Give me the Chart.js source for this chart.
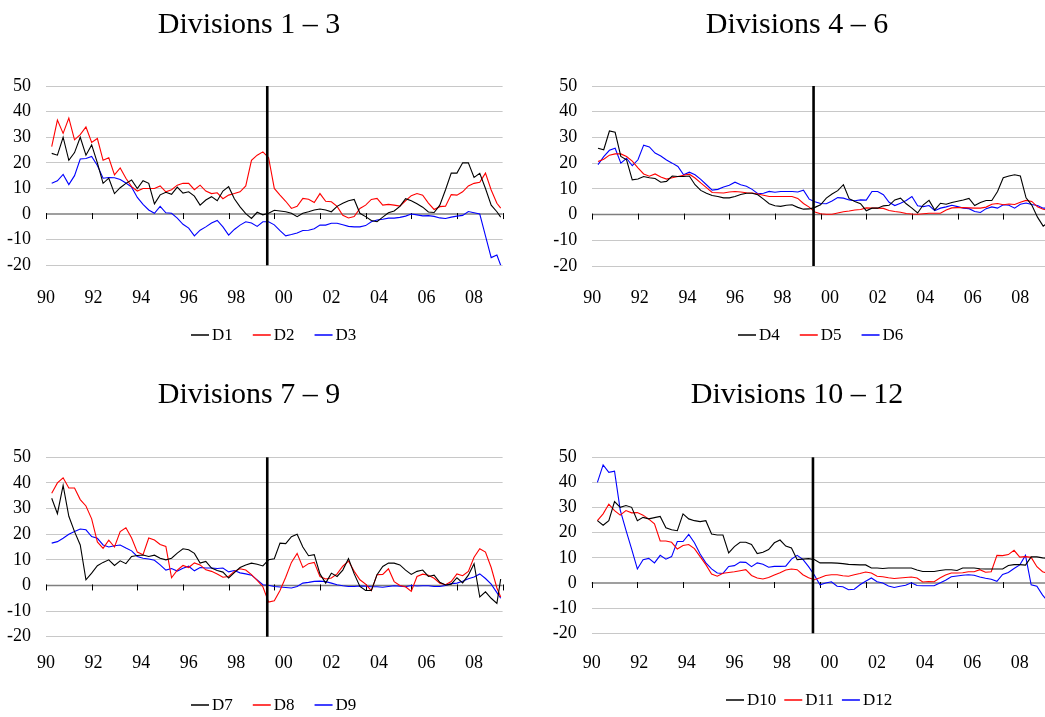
<!DOCTYPE html>
<html>
<head>
<meta charset="utf-8">
<script src="https://cdn.jsdelivr.net/npm/chart.js@4.4.1/dist/chart.umd.min.js"></script>
<style>
  html, body { margin:0; padding:0; background:#fff; width:1045px; height:717px; overflow:hidden; }
  canvas { position:absolute; }
  .title { position:absolute; width:400px; text-align:center; font-family:"Liberation Serif","Times New Roman",serif; font-size:30px; line-height:30px; color:#000; white-space:nowrap; }
</style>
</head>
<body>
<script>
// ---- data: month index since Jan 1990 (x), values in percent (y) ----
const months = [3,6,9,12,15,18,21,24,27,30,33,36,39,42,45,48,51,54,57,60,63,66,69,72,75,78,81,
  84,87,90,93,96,99,102,105,108,111,114,117,120,123,126,129,132,135,138,141,144,147,150,153,156,159,162,
  165,168,171,174,177,180,183,186,189,192,195,198,201,204,207,210,213,216,219,222,225,228,231,234,237,239];

const D1 = [23.7,23,30,21,24,30,23,27,20,12,14,8,10.3,12,13.3,10,13,12,4,7.5,8.5,7.7,10.5,8.2,8.7,7,3.5,
  5.5,6.8,5.2,9,10.7,6,2.8,0.2,-1.7,0.7,-0.3,0.3,1.5,1.2,0.9,0.3,-1,0.3,0.9,1.6,2,1.6,0.9,3,4.2,5.2,5.7,
  0.3,-1,-2.5,-3,-1.2,0.5,1.2,3,6,5.2,4,2.7,0.8,0.6,3.5,9.5,16,16,20,20,14.3,15.9,10,3.5,0.9,
  -1.2];
const D2 = [26.3,36.7,31.5,37.5,29,31,34,28,29.5,21,22,15.3,18,14,10.7,9,10,10,10,11,8.7,9.5,11.3,12,12,9.5,11.3,
  9,8,8.3,6,7.4,8,8.7,11,21,23,24.3,22,10,7.4,5,2.2,3,6.1,5.8,4.5,8,5,4.8,3,-0.5,-1.5,-1,
  2.2,3.5,5.7,6.1,3.5,3.8,3.5,3.1,5.2,7.2,8,7.4,4.3,1.8,2.9,3.1,7.6,7.4,8.7,11,12,12.4,16,9.4,4.2,
  2.3];
const D3 = [12,13,15.5,11.5,15,21.5,21.7,22.5,19,14,14.3,14.2,13.5,12.1,10.5,6.5,3.8,1.6,0.3,3,0.5,0.3,-1.6,-4,-5.5,-8.5,-6.3,
  -5,-3.5,-2.5,-5,-8.2,-6,-4.3,-3,-3.5,-4.8,-3,-3,-4.2,-6.5,-8.5,-8,-7.4,-6.4,-6.3,-5.7,-4.3,-4.3,-3.6,-3.6,-4.2,-4.8,-5,
  -5,-4.5,-3,-2.3,-2,-1.6,-1.6,-1.3,-0.8,0,-0.3,-0.7,-0.6,-0.9,-1.5,-1.7,-1.2,-0.8,-0.5,1,0.5,0,-8.5,-17,-16,
  -20];
const D4 = [25.8,25.2,32.5,32,22.6,21.3,13.5,13.8,14.8,14.3,14,12.6,12.9,15,14.8,14.8,15,11.6,9.4,8.3,7.4,7,6.5,6.5,7,7.8,8.3,
  8.3,7.7,6,4.2,3.4,3.2,3.6,3.8,2.8,2.1,2.2,2.8,3.8,6.4,8,9.3,11.6,6.2,5.1,4.2,1.5,2.5,2.5,3.4,3.6,5.7,6.4,
  4.2,2.5,0.6,3.8,5.5,1.8,4.4,4,4.7,5.2,5.7,6.3,3.5,4.7,5.5,5.5,9,14.3,15,15.5,15,6.5,3.7,-1,-4.5,
  -3.4];
const D5 = [20.6,21.5,23.1,23.6,23.6,22.6,20.8,18.2,15.8,14.9,15.8,14.6,13.8,14.3,14.8,15.3,15.7,14.2,12.3,10.5,8.6,8.5,8.4,8.8,9,8.8,8.5,
  8.4,8,7.5,7,7,7,7,7,6.3,4.3,2.9,1,0.3,0.1,0.1,0.6,1.1,1.4,1.8,2,2.6,2.5,2.5,2.4,1.6,1.2,0.9,
  0.4,0.2,0.1,0.3,0.5,0.5,0.5,1.8,2.6,2.7,2.7,2.6,2.5,2.5,2.9,4,4.3,3.8,4.1,3.9,4.8,5.5,5.1,3,2.1,
  1.8];
const D6 = [19.4,22.5,25,25.8,20,21.9,19,21.3,27,26.3,23.9,22.8,21.2,20,18.7,15.5,16.5,15.5,13.7,11.6,9.5,9.8,10.7,11.4,12.6,11.6,11,
  9.8,8.1,8.3,9,8.7,9,9,9,8.8,9.5,6,5,4.3,4.2,5.3,6.6,6.4,5.7,5.4,5.7,5.6,9,9,7.7,4.8,3.5,4.4,
  5.5,7,3.4,3.1,3.5,1.5,2.5,3,3.6,3.1,2.5,2.3,1.2,0.8,2.3,3,2.5,3.8,3.6,2.5,4,4.5,3.9,3.5,2.5,
  2.5];
const D7 = [34,28,39,27,21,15.8,2.2,4.8,7.7,9,10,7.8,9.6,8.5,11.3,11.7,11.9,11.3,11.8,10.6,10,10.6,12.6,14.3,13.9,12.5,8.7,
  9.4,6.8,5.8,5.2,2.9,5,7,8,8.7,8.3,7.6,10,10.4,16.5,16.3,19,20,15,11.6,12,4.5,0.9,4.8,3.5,6,10.5,4.5,
  -0.4,-2,-2,4.2,7.4,8.7,8.7,8,6,4.3,5.5,6,3.5,4,1.2,0.2,0.5,3,1,4,8.5,-4.5,-2.5,-5,-7,
  2.5];
const D8 = [36,40,42,38,38,33.5,31,26,17,14.5,17.7,15,21,22.5,18.5,13,12,18.5,17.7,16,15.2,3,6,7.8,7,8.8,8,
  6.1,5.5,4.5,3.2,3.5,5.5,6.5,6,4.2,2,-0.5,-6.5,-6,-2,3.2,9,12.5,7,8.5,9,3.5,2.5,2.9,4.5,7.5,9.5,5.5,
  2.2,0.5,-2,4.2,4.3,6.5,1.5,0,-0.5,-2.3,3.5,4.4,4,2.8,0.9,0.3,1.5,4.5,3.8,5.5,11,14.3,13,7,-1,
  -4.5];
const D9 = [16.5,17.1,18.4,20,21,22,21.7,19.1,18.4,15.8,15,15.5,15.8,14.6,13.5,11.3,10.6,10.3,9.8,8,6,6.6,5.6,6.7,7.5,5.7,7,
  6.8,6.8,6.6,6.8,5.3,5.8,4.9,4.5,4,2.2,0.3,0.1,-0.4,-0.6,-0.8,-1,-0.4,0.9,1.2,1.6,1.7,1.5,0.9,0.3,-0.1,-0.4,-0.4,
  -0.2,-0.3,-0.5,-0.5,-0.7,-0.4,-0.1,-0.3,-0.5,0,-0.2,-0.1,-0.1,-0.4,-0.4,0,0.7,0.9,1.6,2.6,3.3,4.5,2.7,0.5,-2.8,
  -5];
const D10 = [24.8,23,24.8,32.4,30.1,30.8,30.1,24.8,26.1,25.5,26,26.5,22,21.2,20.8,27.5,25.5,24.8,24.4,24.8,19.5,19.1,19.1,12,14.5,16.2,16.2,
  15.3,11.7,12.2,13.3,16,17.1,14.7,13.9,9.3,9.5,9.7,9.3,8,8,8,7.9,7.7,7.4,7.3,7.2,7.2,6,6,5.8,6,6,6,
  6,6,5.2,4.6,4.6,4.6,5,5.3,5.3,5,6,6,6,5.7,5.6,5.6,5.6,5.6,7,7.3,7.3,7.1,10.4,10.4,10,
  9.9];
const D11 = [24.8,27.5,31.4,28.8,27,28.8,27.9,28,27,25.4,23.5,16.7,16.7,16.2,13.5,14.9,15.3,13.7,10.5,7.3,3.6,2.7,3.9,4.2,4.5,4.9,5.3,
  3,2,1.6,2.2,3.2,4.1,5.2,5.6,5.3,3.3,2.1,1.3,2.1,3,3.3,3.3,2.9,2.7,3.3,3.8,4.4,4,2.7,2.5,2.1,1.8,2,
  2.2,2.4,2,0.4,0.6,0.5,2,3.2,4,4,4.1,4.5,4.5,5.3,4.3,4.5,11,10.9,11.3,13,10.3,10.5,10.2,6.5,4.5,
  4];
const D12 = [40,47,44,44.5,29,21,13.5,5.6,9.3,9.8,8,11,9.5,10.5,16.5,16.5,19.3,16,11.5,8,5.6,4,3.8,6.6,6.9,8.3,8.2,
  6.5,8,7.5,6.3,6.6,6.6,6.7,9.5,11,9.4,6.5,3.2,-0.7,0,0.5,-1.3,-1.5,-2.7,-2.5,-0.7,0.7,2,0.5,0,-1.2,-1.8,-1.3,
  -0.9,0.1,-1,-1.1,-1.1,-1.1,0,1.1,2.5,2.8,3.1,3.3,3.1,2.4,1.9,1.5,0.7,3.4,4.2,5.8,7.2,11,-0.7,-1.3,-4.8,
  -6.6];

// ---- axis labels ----
const yearLabels = ['90','92','94','96','98','00','02','04','06','08'];
const labelMonths = [0,25,50,75,100,125,150,175,200,225];
const tickMarkMonths = [0,24,48,72,96,120,144,168,192,216,240];
const breakMonth = 116.3;
const yMin = -20, yMax = 50, yStep = 10;
const titles = ['Divisions 1 \u2013 3','Divisions 4 \u2013 6','Divisions 7 \u2013 9','Divisions 10 \u2013 12'];

// ---- layout / style (not data) ----
const FONT = '"Liberation Serif", "Times New Roman", serif';
const COLORS = ['#000000','#ff0000','#0000ff'];
const panels = [
  {left:0,   top:0,   w:522, h:358, plotL:46,    plotR:502.6,  plotT:86,    plotB:265.3, xPad:22,
   series:[['D1',D1],['D2',D2],['D3',D3]], title:titles[0], tX:249, tY:8,   lX:274, lY:335, gap:20},
  {left:546, top:0,   w:522, h:358, plotL:592.3, plotR:1048.9, plotT:86,    plotB:266,   xPad:21,
   series:[['D4',D4],['D5',D5],['D6',D6]], title:titles[1], tX:797, tY:8,   lX:821, lY:335, gap:20},
  {left:0,   top:358, w:522, h:359, plotL:46,    plotR:502.6,  plotT:457.3, plotB:636.7, xPad:15.5,
   series:[['D7',D7],['D8',D8],['D9',D9]], title:titles[2], tX:249, tY:378, lX:274, lY:705, gap:20},
  {left:546, top:358, w:522, h:359, plotL:591.7, plotR:1048.3, plotT:457.3, plotB:633.3, xPad:19,
   series:[['D10',D10],['D11',D11],['D12',D12]], title:titles[3], tX:797, tY:378, lX:809, lY:700, gap:8}
];

const axisPlugin = {
  id: 'zeroAxisAndBreak',
  beforeDatasetsDraw(chart) {
    const {ctx, chartArea, scales} = chart;
    const x = scales.x, y = scales.y;
    const y0 = y.getPixelForValue(0);
    ctx.save();
    ctx.strokeStyle = '#7f7f7f';
    ctx.lineWidth = 1.6;
    ctx.beginPath();
    ctx.moveTo(chartArea.left, y0);
    ctx.lineTo(chartArea.right, y0);
    ctx.stroke();
    ctx.lineWidth = 1;
    ctx.strokeStyle = '#000';
    tickMarkMonths.forEach(m => {
      const px = Math.round(x.getPixelForValue(m)) + 0.5;
      ctx.beginPath();
      ctx.moveTo(px, y0 - 1);
      ctx.lineTo(px, y0 + 5);
      ctx.stroke();
    });
    ctx.restore();
  },
  afterDatasetsDraw(chart) {
    const {ctx, scales} = chart;
    const px = scales.x.getPixelForValue(breakMonth);
    ctx.save();
    ctx.strokeStyle = '#000';
    ctx.lineWidth = 2.6;
    ctx.beginPath();
    ctx.moveTo(px, scales.y.getPixelForValue(yMax));
    ctx.lineTo(px, scales.y.getPixelForValue(yMin));
    ctx.stroke();
    ctx.restore();
  }
};

// legend drawn by the chart itself: short line sample + series name
const lineLegendPlugin = {
  id: 'lineLegend',
  afterDraw(chart, args, opts) {
    const ctx = chart.ctx;
    ctx.save();
    ctx.font = '17px ' + FONT;
    ctx.textBaseline = 'middle';
    ctx.textAlign = 'left';
    const sw = 18, sg = 3;
    const items = chart.data.datasets.map(d => ({text: d.label, color: d.borderColor, w: ctx.measureText(d.label).width}));
    const total = items.reduce((a, it) => a + sw + sg + it.w, 0) + opts.gap * (items.length - 1);
    let x = Math.round(opts.cx - total / 2);
    const y = Math.round(opts.cy);
    items.forEach(it => {
      ctx.strokeStyle = it.color;
      ctx.lineWidth = 1.5;
      ctx.beginPath();
      ctx.moveTo(x, y);
      ctx.lineTo(x + sw, y);
      ctx.stroke();
      ctx.fillStyle = '#000';
      ctx.fillText(it.text, x + sw + sg, y + 1);
      x += sw + sg + it.w + opts.gap;
    });
    ctx.restore();
  }
};

panels.forEach((p) => {
  const cv = document.createElement('canvas');
  cv.width = p.w; cv.height = p.h;
  cv.style.left = p.left + 'px'; cv.style.top = p.top + 'px';
  cv.style.width = p.w + 'px'; cv.style.height = p.h + 'px';
  document.body.appendChild(cv);

  const yW = p.plotL - p.left;
  const padTop = p.plotT - p.top;
  const padRight = p.w - (p.plotR - p.left);
  const xH = p.top + p.h - p.plotB;

  new Chart(cv.getContext('2d'), {
    type: 'line',
    data: {
      datasets: p.series.map((s, i) => ({
        label: s[0],
        data: months.map((m, k) => ({x: m, y: s[1][k]})),
        borderColor: COLORS[i],
        borderWidth: 1.1,
        pointRadius: 0,
        tension: 0,
        fill: false
      }))
    },
    options: {
      responsive: false,
      animation: false,
      devicePixelRatio: 1,
      events: [],
      layout: {padding: {left: 0, right: padRight, top: padTop, bottom: 0}},
      plugins: {
        legend: {display: false}, title: {display: false}, tooltip: {enabled: false},
        lineLegend: {cx: p.lX - p.left, cy: p.lY - p.top, gap: p.gap}
      },
      scales: {
        x: {
          type: 'linear', min: 0, max: 240,
          grid: {display: false, drawTicks: false},
          border: {display: false},
          afterBuildTicks: sc => { sc.ticks = labelMonths.map(v => ({value: v})); },
          afterFit: sc => { sc.height = xH; },
          ticks: {
            autoSkip: false, maxRotation: 0, minRotation: 0,
            padding: p.xPad, color: '#000',
            font: {family: FONT, size: 18},
            callback: v => { const i = labelMonths.indexOf(v); return i >= 0 ? yearLabels[i] : ''; }
          }
        },
        y: {
          min: yMin, max: yMax,
          grid: {color: ctx => (ctx.tick && ctx.tick.value === 0) ? 'rgba(0,0,0,0)' : '#c8c8c8', lineWidth: 1, drawTicks: false},
          border: {display: false},
          afterFit: sc => { sc.width = yW; },
          ticks: {stepSize: yStep, padding: 15, color: '#000', font: {family: FONT, size: 18}}
        }
      }
    },
    plugins: [axisPlugin, lineLegendPlugin]
  });

  const t = document.createElement('div');
  t.className = 'title';
  t.textContent = p.title;
  t.style.left = (p.tX - 200) + 'px'; t.style.top = p.tY + 'px';
  document.body.appendChild(t);
});
</script>
</body>
</html>
